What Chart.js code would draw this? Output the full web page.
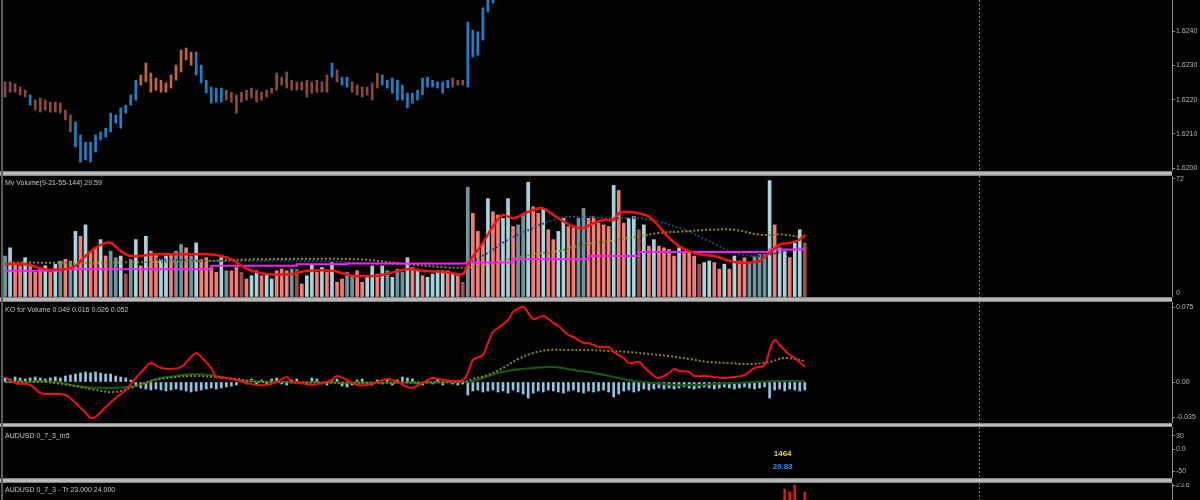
<!DOCTYPE html>
<html>
<head>
<meta charset="utf-8">
<script src="https://cdn.jsdelivr.net/npm/chart.js@4.4.1/dist/chart.umd.min.js"></script>
<style>
  html, body { margin: 0; padding: 0; background: #000; width: 1200px; height: 500px; overflow: hidden; }
  .pane { position: absolute; left: 0; width: 1200px; }
  .pane canvas { display: block; }
  .sep { position: absolute; left: 0; width: 1172px; background: linear-gradient(#6e6e6e, #bdbdbd 35%, #bdbdbd 65%, #6e6e6e); z-index: 5; }
  .edge { position: absolute; left: 1px; top: 0; width: 2px; height: 500px; background: #5c5c5c; z-index: 6; }
</style>
</head>
<body>
<div class="pane" style="top:0px"><canvas id="price" width="1200" height="171"></canvas></div>
<div class="pane" style="top:176px"><canvas id="vol" width="1200" height="121"></canvas></div>
<div class="pane" style="top:302px"><canvas id="osc" width="1200" height="121"></canvas></div>
<div class="pane" style="top:427px"><canvas id="p4" width="1200" height="51"></canvas></div>
<div class="pane" style="top:483px"><canvas id="p5" width="1200" height="60"></canvas></div>
<div class="sep" style="top:171px;height:5px"></div>
<div class="sep" style="top:297px;height:5px"></div>
<div class="sep" style="top:423px;height:4px"></div>
<div class="sep" style="top:478px;height:5px"></div>
<div class="edge"></div>
<script>
// ---- price bars (index 0 = oldest visible bar) ----
const priceHigh = [
  1.62252, 1.62252, 1.62246, 1.62237, 1.62228, 1.62214, 1.62199, 1.62205, 1.62199, 1.62193,
  1.62193, 1.62190, 1.62170, 1.62155, 1.62135, 1.62097, 1.62076, 1.62076, 1.62097, 1.62106,
  1.62117, 1.62161, 1.62155, 1.62176, 1.62184, 1.62214, 1.62257, 1.62272, 1.62307, 1.62278,
  1.62263, 1.62257, 1.62249, 1.62272, 1.62301, 1.62345, 1.62351, 1.62339, 1.62339, 1.62301,
  1.62257, 1.62237, 1.62234, 1.62234, 1.62228, 1.62222, 1.62214, 1.62222, 1.62228, 1.62234,
  1.62228, 1.62222, 1.62228, 1.62234, 1.62278, 1.62266, 1.62281, 1.62257, 1.62252, 1.62252,
  1.62257, 1.62252, 1.62257, 1.62252, 1.62272, 1.62307, 1.62287, 1.62266, 1.62266, 1.62252,
  1.62243, 1.62237, 1.62237, 1.62249, 1.62278, 1.62272, 1.62257, 1.62263, 1.62257, 1.62243,
  1.62219, 1.62219, 1.62228, 1.62263, 1.62266, 1.62257, 1.62252, 1.62252, 1.62257, 1.62263,
  1.62257, 1.62257, 1.62427, 1.62403, 1.62398, 1.62468, 1.62506, 1.62535
];
const priceLow = [
  1.62208, 1.62222, 1.62222, 1.62214, 1.62208, 1.62184, 1.62170, 1.62164, 1.62170, 1.62164,
  1.62164, 1.62161, 1.62141, 1.62106, 1.62062, 1.62018, 1.62024, 1.62018, 1.62047, 1.62082,
  1.62091, 1.62106, 1.62132, 1.62117, 1.62161, 1.62184, 1.62199, 1.62243, 1.62252, 1.62222,
  1.62228, 1.62222, 1.62222, 1.62234, 1.62257, 1.62281, 1.62316, 1.62301, 1.62272, 1.62249,
  1.62219, 1.62190, 1.62193, 1.62193, 1.62199, 1.62193, 1.62161, 1.62193, 1.62199, 1.62205,
  1.62193, 1.62199, 1.62208, 1.62219, 1.62228, 1.62243, 1.62234, 1.62228, 1.62228, 1.62228,
  1.62208, 1.62219, 1.62222, 1.62222, 1.62222, 1.62266, 1.62252, 1.62243, 1.62237, 1.62222,
  1.62214, 1.62208, 1.62214, 1.62199, 1.62234, 1.62243, 1.62234, 1.62219, 1.62199, 1.62199,
  1.62176, 1.62190, 1.62199, 1.62214, 1.62237, 1.62237, 1.62234, 1.62219, 1.62234, 1.62237,
  1.62243, 1.62243, 1.62237, 1.62325, 1.62330, 1.62374, 1.62456, 1.62482
];
// -1 falling, 1 rising, 2 strong swing
const priceTrend = [
  -1, -1, -1, -1, -1, 1, -1, -1, -1, -1,
  -1, -1, -1, -1, 1, 1, 1, 1, 1, 1,
  1, 1, 1, 1, 1, 1, 1, 2, 2, 2,
  2, 2, 2, 2, 2, 2, 2, 2, 1, 1,
  1, 1, 1, 1, -1, -1, -1, -1, -1, -1,
  -1, -1, -1, -1, -1, -1, -1, -1, -1, -1,
  -1, -1, -1, -1, -1, 1, -1, 1, 1, -1,
  -1, -1, -1, -1, -1, 1, 1, 1, 1, 1,
  1, 1, 1, 1, 1, 1, 1, 1, 1, -1,
  -1, -1, 1, 1, 1, 1, 1, 1
];
const priceTicks = [1.6240, 1.6230, 1.6220, 1.6210, 1.6200];

// ---- volume pane ----
const volume = [
  25, 30, 20, 19, 24, 20, 15, 17, 19, 15,
  20, 22, 23, 22, 40, 37, 44, 28, 30, 35,
  25, 28, 24, 25, 14, 23, 35, 19, 37, 28,
  26, 23, 25, 26, 28, 32, 30, 25, 33, 23,
  24, 18, 15, 24, 16, 16, 18, 15, 11, 13,
  16, 13, 14, 11, 16, 17, 16, 17, 17, 8,
  13, 20, 15, 18, 15, 21, 9, 11, 15, 13,
  16, 9, 12, 19, 14, 19, 16, 12, 17, 15,
  24, 18, 17, 13, 12, 14, 16, 16, 16, 14,
  13, 9, 67, 51, 40, 33, 60, 52, 50, 48,
  60, 43, 44, 51, 70, 55, 51, 54, 41, 35,
  40, 48, 43, 42, 48, 54, 48, 49, 45, 44,
  43, 68, 65, 45, 48, 49, 41, 44, 31, 35,
  31, 30, 29, 25, 30, 28, 27, 25, 20, 21,
  22, 21, 17, 20, 17, 25, 22, 24, 21, 25,
  26, 26, 71, 44, 30, 28, 24, 33, 41, 33
];
// 1 up, 2 up weak, -1 down, -2 down weak
const volTone = [
  2, 1, -1, -1, 1, -1, -1, -1, 1, -1,
  1, 2, -1, 2, 1, -1, 1, -1, -1, 1,
  -1, 2, 2, 1, -2, 2, 1, -1, 1, -1,
  -1, 1, 1, -1, 2, 2, -1, 2, 1, -1,
  -1, -1, -1, 1, 2, -1, -1, -2, -1, 1,
  1, -1, 1, 1, -1, -1, -1, 2, -2, -1,
  1, 1, -1, 1, -1, 1, -1, -1, 2, 2,
  -1, -1, 1, 1, -1, 1, 2, 1, 2, 2,
  1, -1, 1, -1, 1, 1, 1, 1, -1, 1,
  -1, -2, 2, -1, -1, -1, 1, -1, -1, 1,
  1, -1, 2, 2, 1, -1, -1, 1, -1, -1,
  1, 1, -1, -1, 2, 2, -1, -1, -1, -1,
  -1, 1, -1, -1, 1, 1, -2, 1, -1, 1,
  -1, -1, -1, -1, 1, -1, -1, -1, -2, 1,
  1, -1, -1, 1, -1, 1, -1, -1, 2, 2,
  2, 2, 1, -1, 1, 1, -1, 1, 1, -2
];
const volFastX = [0, 4, 8, 12, 14, 16, 18, 20, 21, 23, 25, 30, 35, 40, 43, 45, 47, 49, 52, 57, 60, 65, 69, 74, 77, 80, 83, 88, 91, 92,
  95, 97, 99, 101, 104, 106, 107, 110, 113, 115, 117, 119, 121, 122, 124, 126, 128, 130, 132, 134, 136, 138, 141, 144, 146, 148, 150, 152, 154, 156, 158, 159];
const volFastY = [20, 20, 17, 17, 19, 25, 30, 33, 33, 28, 25, 26, 26, 26, 25, 23, 19, 16, 14, 14, 16, 16, 13, 13, 15, 17, 16, 15, 14, 20,
  33, 43, 50, 48, 52, 54, 54, 48, 43, 42, 45, 47, 47, 51, 52, 51, 49, 43, 36, 31, 28, 26, 25, 22, 21, 21, 22, 27, 32, 33, 35, 38];
const volLongX = [0, 11, 41, 58, 68, 92, 101, 116, 126, 152, 159];
const volLongY = [16, 17, 19, 20, 20.5, 21, 23, 25, 27.5, 29, 29];
const volMidX = [0, 20, 40, 50, 70, 80, 88, 92, 96, 100, 105, 110, 115, 120, 126, 130, 135, 140, 145, 150, 155, 159];
const volMidY = [21, 21, 22, 23, 23, 20, 18, 18, 20, 23, 26, 28, 32, 34, 37, 39, 40, 41, 41, 38, 38, 36];
const volSlowX = [30, 40, 60, 80, 92, 96, 100, 105, 110, 115, 120, 126, 130, 135, 140, 145, 150, 155, 159];
const volSlowY = [23, 22, 22, 20, 21, 27, 35, 42, 48, 49, 48, 48, 46, 41, 34, 27, 25, 28, 30];
const volTicks = [72, 0];

// ---- oscillator pane ----
const oscHist = [
  0.004, 0.003, 0.005, 0.004, 0.003, 0.004, 0.005, 0.004, 0.003, 0.004,
  0.005, 0.004, 0.006, 0.007, 0.008, 0.009, 0.010, 0.009, 0.010, 0.009,
  0.008, 0.008, 0.006, 0.005, 0.004, 0.002, -0.003, -0.006, -0.007, -0.008,
  -0.007, -0.008, -0.009, -0.008, -0.007, -0.008, -0.009, -0.010, -0.009, -0.008,
  -0.007, -0.006, -0.007, -0.006, -0.005, -0.004, -0.003, 0.002, -0.002, 0.003,
  -0.003, 0.002, -0.002, 0.003, 0.004, -0.002, -0.003, 0.002, 0.003, -0.002,
  -0.003, 0.004, 0.003, -0.002, -0.003, 0.002, 0.003, -0.004, -0.005, -0.003,
  0.002, 0.003, -0.002, -0.003, 0.002, -0.002, 0.003, -0.003, 0.002, 0.005,
  0.004, 0.003, -0.002, -0.003, 0.002, -0.002, 0.003, -0.003, 0.002, -0.002,
  -0.003, -0.002, -0.013, -0.009, -0.008, -0.010, -0.009, -0.008, -0.010, -0.009,
  -0.011, -0.008, -0.010, -0.012, -0.016, -0.011, -0.009, -0.010, -0.008, -0.009,
  -0.010, -0.011, -0.009, -0.008, -0.010, -0.011, -0.009, -0.010, -0.009, -0.008,
  -0.010, -0.015, -0.012, -0.009, -0.008, -0.010, -0.009, -0.007, -0.008, -0.007,
  -0.006, -0.007, -0.006, -0.007, -0.006, -0.005, -0.006, -0.007, -0.006, -0.005,
  -0.006, -0.007, -0.006, -0.005, -0.006, -0.007, -0.006, -0.005, -0.006, -0.007,
  -0.006, -0.005, -0.016, -0.008, -0.007, -0.009, -0.007, -0.008, -0.009, -0.008
];
const oscMainX = [0, 2, 5, 7, 9, 12, 14, 16, 17, 18, 20, 22, 24, 26, 28, 29, 31, 33, 35, 37, 38, 39, 41, 42, 44, 46, 48, 50, 52, 54,
  56, 57, 59, 61, 63, 65, 66, 68, 70, 72, 74, 76, 78, 80, 81, 83, 85, 87, 89, 91, 92, 93, 95, 96, 97, 98, 100, 101, 103, 104,
  105, 107, 109, 110, 112, 113, 115, 116, 118, 120, 121, 123, 124, 126, 127, 129, 130, 132, 133, 134, 136, 137, 139, 141, 143, 145, 147, 149, 151, 152,
  153, 154, 156, 157, 159];
const oscMainY = [0.005, -0.001, -0.003, -0.011, -0.012, -0.013, -0.021, -0.031, -0.036, -0.035,
  -0.025, -0.016, -0.008, 0.004, 0.015, 0.019, 0.014, 0.013, 0.015, 0.025,
  0.029, 0.025, 0.014, 0.005, 0.004, 0.002, -0.001, -0.003, -0.003, 0.000,
  0.005, 0.000, -0.001, -0.003, -0.001, 0.002, 0.006, 0.002, -0.003, -0.003,
  0.000, 0.003, 0.000, -0.005, -0.006, -0.001, 0.004, 0.002, 0.001, 0.002,
  0.009, 0.022, 0.027, 0.039, 0.050, 0.054, 0.062, 0.070, 0.075, 0.069,
  0.063, 0.066, 0.059, 0.056, 0.047, 0.045, 0.039, 0.039, 0.035, 0.035,
  0.030, 0.024, 0.019, 0.020, 0.015, 0.006, 0.004, 0.009, 0.013, 0.011,
  0.010, 0.006, 0.006, 0.005, 0.004, 0.005, 0.007, 0.014, 0.017, 0.032,
  0.042, 0.037, 0.027, 0.024, 0.015];
const oscSignalX = [0, 8, 14, 18, 22, 26, 30, 34, 38, 42, 46, 50, 91, 93, 96, 99, 102, 105, 108, 112, 116, 120, 124, 128, 132, 136, 140, 144, 148, 152, 155, 159];
const oscSignalY = [0, 0, -0.004, -0.008, -0.010, -0.004, 0.002, 0.005, 0.006, 0.005, 0.003, 0, 0, 0.003, 0.007, 0.014,
  0.023, 0.029, 0.032, 0.032, 0.032, 0.031, 0.030, 0.028, 0.026, 0.023, 0.020, 0.019, 0.018, 0.020, 0.024, 0.021];
const oscBaseX = [0, 10, 14, 20, 26, 30, 34, 38, 42, 46, 55, 92, 95, 98, 101, 105, 109, 113, 117, 121, 125, 129, 133, 137, 141, 145, 149, 153, 159];
const oscBaseY = [0, 0, -0.004, -0.006, -0.004, 0.003, 0.006, 0.008, 0.006, 0.002, 0, 0, 0.004, 0.009, 0.012,
  0.014, 0.015, 0.012, 0.009, 0.005, 0.001, -0.001, -0.003, -0.003, -0.002, -0.001, 0, 0.001, 0.001];
const oscTicks = [0.075, 0, -0.035];

// ---- lower panes ----
const p4Ticks = [30, 0, -50];
const noteIdx = [154.6, 154.6];
const noteVal = [-11.25, -40.5];
const noteText = ['1464', '29.83'];
const p5Idx = [155, 156, 157, 159];
const p5Val = [22.05, 20.8, 23.7, 20.8];
const p5Ticks = [23.6];

const sessionBreaks = [193.6];

const TREND_COLORS = { '-1': '#8a4b3d', '1': '#1e80c6', '2': '#c26a36' };
const VOL_COLORS = { '1': '#a6d4dd', '2': '#6f949d', '-1': '#ef7e77', '-2': '#a44c47' };
const NOTE_COLORS = ['#f3d21d', '#2b8fff'];

Chart.defaults.font.family = '"Liberation Sans", "DejaVu Sans", sans-serif';
Chart.defaults.devicePixelRatio = 1;

const pts = (xs, ys) => xs.map((x, i) => ({ x, y: ys[i] }));

// session separator + pane caption
const paneDecor = {
  id: 'paneDecor',
  afterDatasetsDraw(chart, args, opts) {
    const { ctx, chartArea: a, scales: { x } } = chart;
    ctx.save();
    ctx.strokeStyle = '#7e7e7e';
    ctx.lineWidth = 1;
    ctx.setLineDash([2, 2]);
    sessionBreaks.forEach(b => {
      const px = Math.round(x.getPixelForValue(b)) + 0.5;
      ctx.beginPath();
      ctx.moveTo(px, a.top);
      ctx.lineTo(px, a.bottom);
      ctx.stroke();
    });
    ctx.setLineDash([]);
    if (opts.title) {
      ctx.fillStyle = '#c6c6c6';
      ctx.font = '7px "Liberation Sans"';
      ctx.textBaseline = 'middle';
      ctx.fillText(opts.title, 5, a.top + opts.dy);
    }
    ctx.restore();
  }
};

const notesPlugin = {
  id: 'notes',
  afterDatasetsDraw(chart) {
    const { ctx, scales: { x, y } } = chart;
    ctx.save();
    ctx.font = 'bold 8px "Liberation Sans"';
    ctx.textAlign = 'center';
    ctx.textBaseline = 'middle';
    noteText.forEach((t, i) => {
      ctx.fillStyle = NOTE_COLORS[i];
      ctx.fillText(t, x.getPixelForValue(noteIdx[i]), y.getPixelForValue(noteVal[i]));
    });
    ctx.restore();
  }
};

function yAxis(min, max, ticks, fmt) {
  return {
    position: 'right',
    min, max,
    afterFit: s => { s.width = 28; s.paddingTop = 0; s.paddingBottom = 0; },
    afterBuildTicks: s => { s.ticks = ticks.map(v => ({ value: v })); },
    border: { display: true, color: '#8e8e8e' },
    grid: { display: true, drawOnChartArea: false, drawTicks: true, tickLength: 3, color: '#8e8e8e' },
    ticks: { color: '#b6b6b6', font: { size: 7 }, padding: 1, autoSkip: false, callback: fmt }
  };
}

function makePane(id, datasets, y, decor, extra) {
  return new Chart(document.getElementById(id), {
    type: 'bar',
    data: { datasets },
    plugins: [paneDecor].concat(extra || []),
    options: {
      responsive: false,
      animation: false,
      events: [],
      layout: { padding: 0, autoPadding: false },
      plugins: { legend: { display: false }, tooltip: { enabled: false }, paneDecor: decor },
      scales: {
        x: { type: 'linear', min: -1, max: 232, offset: false, display: false },
        y
      }
    }
  });
}

const line = (data, color, width, extra) => Object.assign({
  type: 'line', data, borderColor: color, borderWidth: width,
  pointRadius: 0, tension: 0.35, fill: false
}, extra);

makePane('price', [{
  data: priceHigh.map((h, i) => ({ x: i, y: [priceLow[i], h] })),
  backgroundColor: c => TREND_COLORS[priceTrend[c.dataIndex]],
  barThickness: 2, borderWidth: 0
}], yAxis(1.61992, 1.62491, priceTicks, v => v.toFixed(4)), {});

makePane('vol', [
  line(pts(volFastX, volFastY), '#f41212', 2.5, { order: 0 }),
  line(pts(volLongX, volLongY), '#ff1cff', 2, { order: 1, stepped: true }),
  line(pts(volMidX, volMidY), '#8f8a14', 2, { order: 2, borderDash: [2, 2] }),
  line(pts(volSlowX, volSlowY), '#1b4a7c', 2, { order: 3, borderDash: [2, 2] }),
  {
    order: 10,
    data: volume.map((v, i) => ({ x: i, y: v })),
    backgroundColor: c => VOL_COLORS[volTone[c.dataIndex]],
    barThickness: 3, borderWidth: 0
  }
], yAxis(0, 73.8, volTicks, v => v === 0 ? ['0', ''] : String(v)),
  { title: 'Mv Volume(9-21-55-144) 29.59', dy: 7 });

makePane('osc', [
  line(pts(oscMainX, oscMainY), '#f01010', 2, { order: 0 }),
  line(pts(oscSignalX, oscSignalY), '#8c8714', 2, { order: 1, borderDash: [2, 2] }),
  line(pts(oscBaseX, oscBaseY), '#145a14', 2, { order: 2 }),
  {
    order: 10,
    data: oscHist.map((v, i) => ({ x: i, y: v })),
    backgroundColor: '#8cc7e2',
    barThickness: 2, borderWidth: 0
  }
], yAxis(-0.041, 0.080, oscTicks, v => v === 0 ? '0.00' : v.toFixed(3)),
  { title: 'KO for Volume 0.049 0.016 0.026 0.052', dy: 8 });

makePane('p4', [], yAxis(-65.25, 49.5, p4Ticks, v => v === 0 ? '0.0' : String(v)),
  { title: 'AUDUSD 0_7_3_m5', dy: 9 }, [notesPlugin]);

makePane('p5', [{
  data: p5Idx.map((x, i) => ({ x, y: p5Val[i] })),
  backgroundColor: '#e41414',
  barThickness: 2, borderWidth: 0
}], yAxis(0, 24.5, p5Ticks, v => v.toFixed(1)),
  { title: 'AUDUSD 0_7_3 - Tr 23.000 24.000', dy: 7 });
</script>
</body>
</html>
